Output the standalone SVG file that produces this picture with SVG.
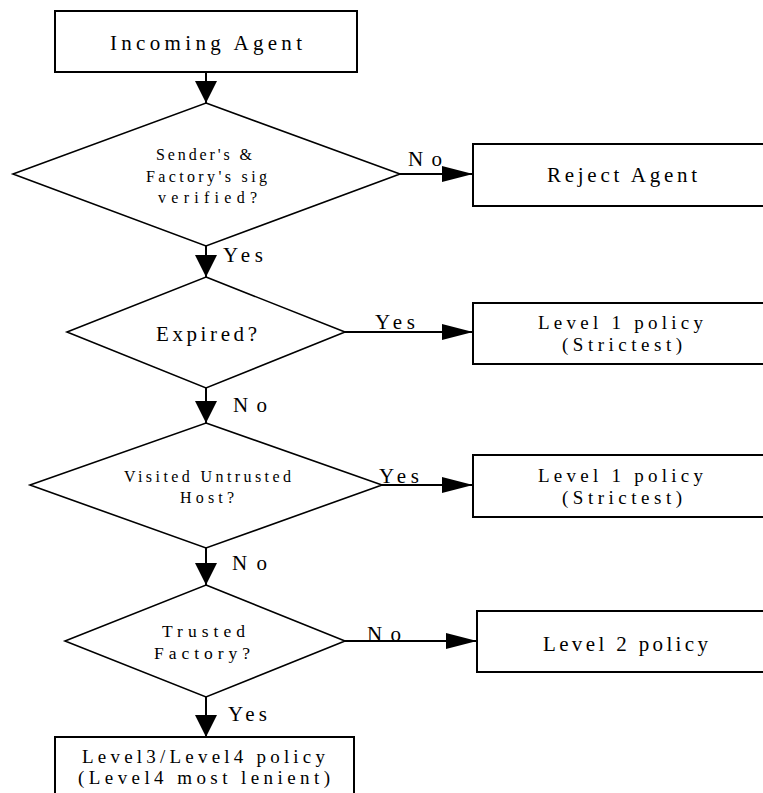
<svg xmlns="http://www.w3.org/2000/svg" width="763" height="793" viewBox="0 0 763 793" font-family="'Liberation Serif', 'Times New Roman', serif">
  <style>
    .box { fill: #fff; stroke: #000; stroke-width: 2; }
    .dia { fill: #fff; stroke: #000; stroke-width: 1.6; }
    .edge { fill: none; stroke: #000; stroke-width: 2; }
    .edge.v { marker-end: url(#headV); }
    .edge.h { marker-end: url(#headH); }
    text { font-family: 'Liberation Serif', 'Times New Roman', serif; fill: #000; }
    .big { font-size: 21px; }
    .tight { font-size: 19px; }
    .small { font-size: 16px; }
    .mid { font-size: 17.5px; }
  </style>
  <defs>
    <marker id="headV" markerUnits="userSpaceOnUse" markerWidth="24" markerHeight="24" refX="22" refY="11" orient="auto" viewBox="0 0 24 24">
      <path d="M0,0 L22,11 L0,22 Z" fill="#000"/>
    </marker>
    <marker id="headH" markerUnits="userSpaceOnUse" markerWidth="32" markerHeight="18" refX="31" refY="8" orient="auto" viewBox="0 0 32 18">
      <path d="M0,0 L31,8 L0,16 Z" fill="#000"/>
    </marker>
  </defs>

  <rect width="763" height="793" fill="#fff"/>

  <!-- connectors -->
  <g id="connectors">
    <line class="edge v" x1="206" y1="72" x2="206" y2="103"/>
    <line class="edge v" x1="206" y1="246" x2="206" y2="277"/>
    <line class="edge v" x1="206" y1="388" x2="206" y2="423"/>
    <line class="edge v" x1="206" y1="548" x2="206" y2="585"/>
    <line class="edge v" x1="206" y1="697" x2="206" y2="737"/>
    <line class="edge h" x1="400" y1="174" x2="473" y2="174"/>
    <line class="edge h" x1="345" y1="332" x2="473" y2="332"/>
    <line class="edge h" x1="382" y1="485" x2="473" y2="485"/>
    <line class="edge h" x1="345" y1="641" x2="477" y2="641"/>
    <!-- branch labels -->
    <text class="big" x="408" y="166" textLength="34" lengthAdjust="spacing">No</text>
    <text class="big" x="223" y="262" textLength="40" lengthAdjust="spacing">Yes</text>
    <text class="big" x="375" y="329" textLength="40" lengthAdjust="spacing">Yes</text>
    <text class="big" x="233" y="412" textLength="34" lengthAdjust="spacing">No</text>
    <text class="big" x="379" y="483" textLength="40" lengthAdjust="spacing">Yes</text>
    <text class="big" x="232" y="570" textLength="35" lengthAdjust="spacing">No</text>
    <text class="big" x="367" y="641" textLength="34" lengthAdjust="spacing">No</text>
    <text class="big" x="228" y="721" textLength="39" lengthAdjust="spacing">Yes</text>
  </g>

  <g id="incoming-agent">
    <rect class="box" x="55" y="11" width="302" height="61"/>
    <text class="big" x="110" y="50" textLength="192" lengthAdjust="spacing">Incoming Agent</text>
  </g>

  <g id="sig-check">
    <polygon class="dia" points="206,103 400,174 206,246 13,174"/>
    <text class="small" x="156" y="160" textLength="96" lengthAdjust="spacing">Sender's &amp;</text>
    <text class="small" x="146" y="182" textLength="121" lengthAdjust="spacing">Factory's sig</text>
    <text class="small" x="158" y="203" textLength="99" lengthAdjust="spacing">verified?</text>
  </g>

  <g id="reject-agent">
    <rect class="box" x="473" y="144" width="300" height="62"/>
    <text class="big" x="547" y="182" textLength="150" lengthAdjust="spacing">Reject Agent</text>
  </g>

  <g id="expired">
    <polygon class="dia" points="206,277 345,332 206,388 67,332"/>
    <text class="big" x="156" y="341" textLength="101" lengthAdjust="spacing">Expired?</text>
  </g>

  <g id="level1-expired">
    <rect class="box" x="473" y="303" width="300" height="61"/>
    <text class="tight" x="538" y="329" textLength="165" lengthAdjust="spacing">Level 1 policy</text>
    <text class="tight" x="562" y="351" textLength="120" lengthAdjust="spacing">(Strictest)</text>
  </g>

  <g id="untrusted-host">
    <polygon class="dia" points="206,423 382,485 206,548 30,485"/>
    <text class="small" x="124" y="482" textLength="167" lengthAdjust="spacing">Visited Untrusted</text>
    <text class="small" x="180" y="503" textLength="54" lengthAdjust="spacing">Host?</text>
  </g>

  <g id="level1-untrusted">
    <rect class="box" x="473" y="455" width="300" height="62"/>
    <text class="tight" x="538" y="482" textLength="165" lengthAdjust="spacing">Level 1 policy</text>
    <text class="tight" x="562" y="504" textLength="120" lengthAdjust="spacing">(Strictest)</text>
  </g>

  <g id="trusted-factory">
    <polygon class="dia" points="206,585 345,641 206,697 65,641"/>
    <text class="mid" x="162" y="637" textLength="83" lengthAdjust="spacing">Trusted</text>
    <text class="mid" x="154" y="659" textLength="96" lengthAdjust="spacing">Factory?</text>
  </g>

  <g id="level2">
    <rect class="box" x="477" y="611" width="300" height="61"/>
    <text class="big" x="543" y="651" textLength="165" lengthAdjust="spacing">Level 2 policy</text>
  </g>

  <g id="level3-4">
    <rect class="box" x="55" y="737" width="299" height="70"/>
    <text class="tight" x="82" y="763" textLength="243" lengthAdjust="spacing">Level3/Level4 policy</text>
    <text class="tight" x="78" y="784" textLength="252" lengthAdjust="spacing">(Level4 most lenient)</text>
  </g>
</svg>
